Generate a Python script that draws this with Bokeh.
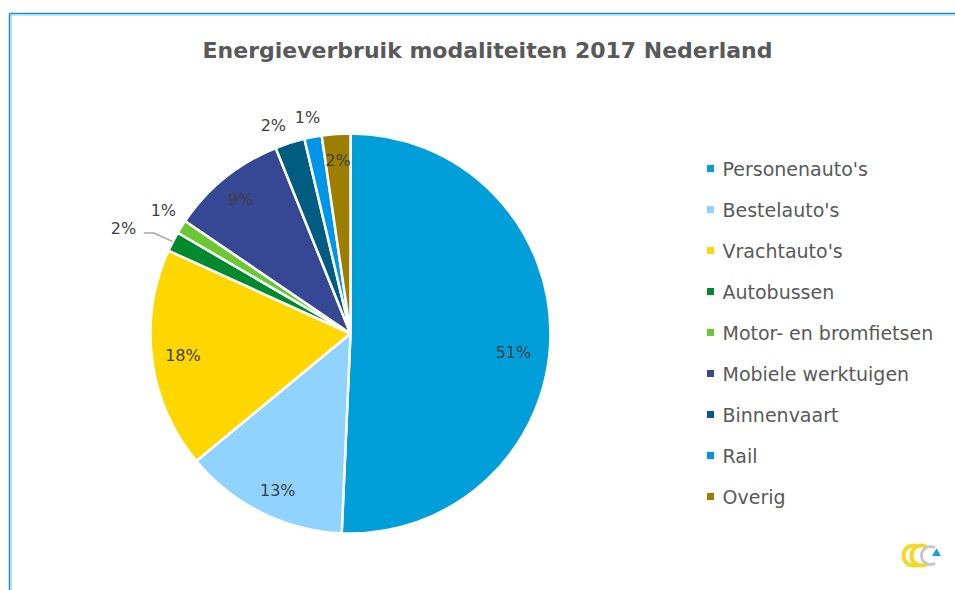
import numpy as np
from bokeh.plotting import figure
from bokeh.models import Range1d, ColumnDataSource
from bokeh.core.properties import value
from bokeh.embed import file_html
from bokeh.resources import INLINE

title_text = "Energieverbruik modaliteiten 2017 Nederland"
categories = ["Personenauto's", "Bestelauto's", "Vrachtauto's", "Autobussen",
              "Motor- en bromfietsen", "Mobiele werktuigen", "Binnenvaart", "Rail", "Overig"]
values = [50.7, 13.3, 17.8, 1.6, 1.1, 9.4, 2.4, 1.4, 2.3]
colors = ["#009FDA", "#8FD3FE", "#FFD700", "#008A2E", "#6CC832",
          "#364794", "#005C80", "#0095E8", "#9C7F00"]

# label placement styles (radius factor, angle nudge in degrees)
label_rfac = [0.82, 0.865, 0.845, 1.25, 1.12, 0.865, 1.11, 1.10, 0.865]
label_nudge = [5.3, -1.6, 0.0, -2.6, 1.1, -0.6, -2.7, -0.5, 0.0]

W, H = 955, 590
p = figure(width=W, height=H, output_backend="svg", toolbar_location=None,
           x_range=Range1d(0, W), y_range=Range1d(0, H), min_border=0)
p.axis.visible = False
p.grid.visible = False
p.outline_line_color = None
p.background_fill_color = "white"
p.border_fill_color = "white"

def py(y):  # page y -> figure y
    return H - y
def px(x):
    return x

# frame
p.line([px(9), px(960)], [py(13), py(13)], line_color="#1E8FC6", line_width=1.5)
p.line([px(10), px(960)], [py(14.5), py(14.5)], line_color="#8AD3F2", line_width=1.2)
p.line([px(9), px(9)], [py(13), py(600)], line_color="#1E8FC6", line_width=1.5)
p.line([px(10.5), px(10.5)], [py(14), py(600)], line_color="#8AD3F2", line_width=1.2)

# title
p.text(x=[px(487)], y=[py(50)], text=[title_text], text_align="center", text_baseline="middle",
       text_font=value("DejaVu Sans"), text_font_style="bold", text_font_size="22px",
       text_color="#595959")

# pie
cx, cy, R = px(350), py(333), 200
vals = np.array(values, dtype=float)
frac = vals / vals.sum()
cum = np.concatenate([[0.0], np.cumsum(frac)])
start = np.pi / 2 - 2 * np.pi * cum[:-1]
end = np.pi / 2 - 2 * np.pi * cum[1:]
src = ColumnDataSource(dict(start=start, end=end, color=colors))
p.wedge(x=cx, y=cy, radius=R, start_angle="start", end_angle="end", direction="clock",
        fill_color="color", line_color="white", line_width=2.5, source=src)

# labels
mid = (cum[:-1] + cum[1:]) / 2
ang = 2 * np.pi * mid + np.radians(label_nudge)
rf = np.array(label_rfac)
lx = cx + R * rf * np.sin(ang)
ly = cy + R * rf * np.cos(ang)
labels = [f"{round(v / vals.sum() * 100):d}%" for v in vals]
p.text(x=lx, y=ly, text=labels, text_align="center", text_baseline="middle",
       text_font=value("DejaVu Sans"), text_font_size="16px", text_color="#404040")

# leader line for Autobussen
i = 3
a0 = 2 * np.pi * mid[i]
a1 = a0 - np.radians(0.3)
x0, y0 = cx + R * 1.0 * np.sin(a0), cy + R * 1.0 * np.cos(a0)
x1, y1 = cx + R * 1.105 * np.sin(a1), cy + R * 1.105 * np.cos(a1)
p.line([x0, x1, x1 - 10], [y0, y1, y1], line_color="#A6A6A6", line_width=1.5)

# legend
n = len(categories)
leg_y = [py(168 + 41 * k) for k in range(n)]
p.scatter(x=[px(710)] * n, y=leg_y, marker="square", size=7, fill_color=colors, line_color=None)
p.text(x=[px(722)] * n, y=leg_y, text=categories, text_align="left", text_baseline="middle",
       text_font=value("DejaVu Sans"), text_font_size="19px", text_color="#595959")

# logo (decorative)
p.arc(x=[px(913), px(921)], y=[py(555), py(555)], radius=10, start_angle=np.radians(60),
      end_angle=np.radians(300), line_color="#F2D82A", line_width=4)
p.arc(x=[px(930)], y=[py(555)], radius=9, start_angle=np.radians(60),
      end_angle=np.radians(300), line_color="#C8C8C8", line_width=3)
p.scatter(x=[px(936)], y=[py(553)], marker="triangle", size=9, fill_color="#1EA0E0", line_color=None)

open("out.html", "w").write(file_html(p, INLINE))
